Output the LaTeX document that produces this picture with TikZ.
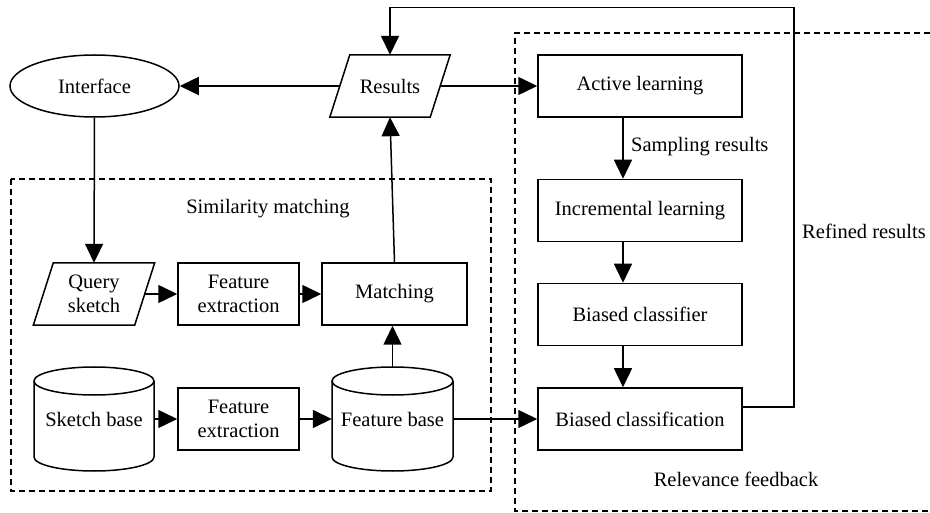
\documentclass[tikz,border=0pt]{standalone}
\usepackage{fontspec}
\setmainfont{Liberation Serif}
\usetikzlibrary{arrows.meta,shapes.geometric}
\newcommand\mycyl[3]{%
  \draw[ln] (#1,#2-38) ellipse [x radius=#3, y radius=14];
  \draw[ln] (#1-#3,#2-38) -- (#1-#3,#2+38) arc[start angle=180,end angle=0,x radius=#3,y radius=14] -- (#1+#3,#2-38);
}
\newcommand\mypar[1]{%
  \draw[ln] ([xshift=-10pt]#1.south west) -- ([xshift=10pt]#1.north west) -- ([xshift=10pt]#1.north east) -- ([xshift=-10pt]#1.south east) -- cycle;
}
\begin{document}
\begin{tikzpicture}[x=1pt,y=-1pt,
  ln/.style={line width=1.5pt},
  txt/.style={font=\fontsize{20.5}{24}\selectfont, align=center, inner sep=0pt},
  boxst/.style={txt, draw, ln, minimum height=62pt},
  hid/.style={txt, minimum height=62pt},
  arr/.style={ln, -{Triangle[length=19pt,width=18pt]}},
  dsh/.style={line width=1.5pt, dash pattern=on 6pt off 4pt}]
\useasboundingbox (0,0) rectangle (930,513);
\fill[white] (0,0) rectangle (930,513);

% dashed groups
\draw[dsh] (11,179) rectangle (491,491);
\draw[dsh] (930,33) -- (515,33) -- (515,511) -- (930,511);

% nodes
\node[txt, draw, ln, ellipse, minimum width=169pt, minimum height=62pt] (i) at (94.5,86) {Interface};
\node[hid, minimum width=100pt] (r) at (390,86) {Results};
\mypar{r}
\node[hid, minimum width=101pt] (q) at (94,294) {Query\\sketch};
\mypar{q}
\node[boxst, minimum width=121pt] (fe1) at (238.5,294) {Feature\\extraction};
\node[boxst, minimum width=145pt] (m) at (394.5,294) {Matching};
\node[txt, minimum width=120pt, minimum height=104pt] (sb) at (94,419) {Sketch base};
\mycyl{94}{419}{60}
\node[boxst, minimum width=121pt] (fe2) at (238.5,419) {Feature\\extraction};
\node[txt, minimum width=121pt, minimum height=104pt] (fb) at (392.5,419) {Feature base};
\mycyl{392.5}{419}{60.5}

\node[boxst, minimum width=204pt] (al) at (640,86) {Active learning};
\node[boxst, minimum width=204pt] (il) at (640,210.5) {Incremental learning};
\node[boxst, minimum width=204pt] (bcf) at (640,314.5) {Biased classifier};
\node[boxst, minimum width=204pt] (bc) at (640,419) {Biased classification};

% labels
\node[txt] (lsim) at (268,209) {Similarity matching};
\node[txt, anchor=west] (lsamp) at (631,147) {Sampling results};
\node[txt] (lref) at (864,231) {Refined results};
\node[txt] (lrel) at (736,479) {Relevance feedback};

% connectors
\draw[arr] (r.west) -- (i.east);
\draw[arr] (r.east) -- (al.west);
\draw[arr] (i.south) -- (q.north);
\draw[arr] (q.east) -- (fe1.west);
\draw[arr] (fe1.east) -- (m.west);
\draw[arr] (m.north) -- (r.south);
\draw[arr] (sb.east) -- (fe2.west);
\draw[arr] (fe2.east) -- (fb.west);
\draw[arr] (fb.north) -- (fb.north |- m.south);
\draw[arr] (fb.east) -- (bc.west);
\draw[arr] ([xshift=-17pt]al.south) -- ([xshift=-17pt]il.north);
\draw[arr] ([xshift=-17pt]il.south) -- ([xshift=-17pt]bcf.north);
\draw[arr] ([xshift=-17pt]bcf.south) -- ([xshift=-17pt]bc.north);
\coordinate (ctop) at (794,7.5);
\draw[arr] ([yshift=12pt]bc.east) -| (ctop) -| (r.north);
\end{tikzpicture}
\end{document}
